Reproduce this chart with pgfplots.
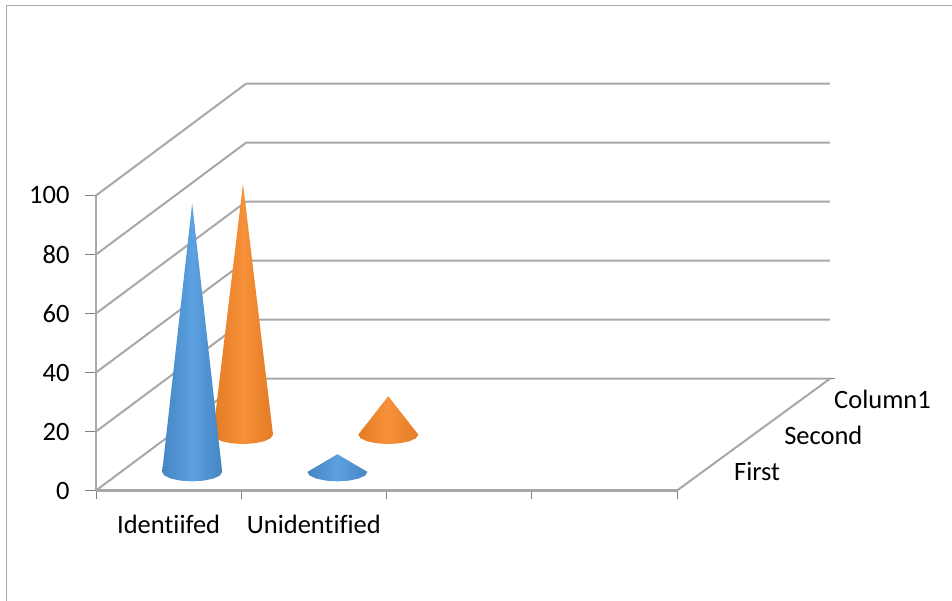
\documentclass[border=0pt]{standalone}
\usepackage{pgfplots}
\pgfplotsset{compat=1.18}
\usepackage{fontspec}
\setmainfont{Carlito}[Ligatures=NoCommon]
\definecolor{wall}{HTML}{A8A8A8}
\definecolor{blueedge}{HTML}{4585C2}
\definecolor{bluemid}{HTML}{5CA1E1}
\definecolor{orangeedge}{HTML}{E37C24}
\definecolor{orangemid}{HTML}{F69039}
\tikzset{
  bluecone/.style={draw=none,left color=blueedge,right color=blueedge,middle color=bluemid},
  orangecone/.style={draw=none,left color=orangeedge,right color=orangeedge,middle color=orangemid},
  wallline/.style={color=wall,line width=2pt,line join=round}
}
\begin{document}
\begin{tikzpicture}[x=1pt,y=1pt]
\useasboundingbox (0,0) rectangle (952,601);
% chart area frame
\draw[wall,line width=1.5pt] (6.5,0) -- (6.5,595.5) -- (952,595.5);
\begin{axis}[
  at={(96pt,110.5pt)},anchor=south west,
  scale only axis,width=581pt,height=295pt,
  xmin=0,xmax=4,ymin=0,ymax=100,
  clip=false,
  axis x line=bottom,axis y line=left,
  axis line style={-,color=wall,line width=2.2pt},
  xtick={0.5,1.5},xticklabels={Identiifed,Unidentified},
  minor xtick={0,1,2,3,4},
  ytick={0,20,40,60,80,100},
  tick align=outside,
  major tick length=11pt,minor tick length=9pt,
  major x tick style={draw=none},
  minor x tick style={color=gray,line width=0.8pt},
  major y tick style={color=gray,line width=0.8pt},
  tick label style={font=\fontsize{26.5}{30}\selectfont,text=black},
  /pgf/number format/assume math mode=true,
  x tick label style={yshift=-10pt},
  y tick label style={xshift=-12pt},
]
% side and back wall gridlines
\addplot[wallline] coordinates {(0,0) (1.033,37.9) (5.053,37.9) (4,0)};
\addplot[wallline] coordinates {(0,20) (1.033,57.9) (5.053,57.9)};
\addplot[wallline] coordinates {(0,40) (1.033,77.9) (5.053,77.9)};
\addplot[wallline] coordinates {(0,60) (1.033,97.9) (5.053,97.9)};
\addplot[wallline] coordinates {(0,80) (1.033,117.9) (5.053,117.9)};
\addplot[wallline] coordinates {(0,100) (1.033,137.9) (5.053,137.9)};
\addplot[color=gray,line width=0.8pt] coordinates {(5.053,37.9) (5.09,37.9)};
% series "Second": Identiifed 85, Unidentified 13 above a base level of 18.95
\addplot[orangecone] coordinates {(1.012,103.95) (1.2186,18.95) (1.203,17.73) (1.158,16.69) (1.091,15.99) (1.012,15.75) (0.933,15.99) (0.866,16.69) (0.821,17.73) (0.8054,18.95) (1.012,103.95)};
\addplot[orangecone] coordinates {(2.012,31.95) (2.2186,18.95) (2.203,17.73) (2.158,16.69) (2.091,15.99) (2.012,15.75) (1.933,15.99) (1.866,16.69) (1.821,17.73) (1.8054,18.95) (2.012,31.95)};
% series "First": Identiifed 91, Unidentified 6 above a base level of 6.3
\addplot[bluecone] coordinates {(0.662,97.3) (0.8686,6.3) (0.853,5.08) (0.808,4.04) (0.741,3.34) (0.662,3.1) (0.583,3.34) (0.516,4.04) (0.471,5.08) (0.4554,6.3) (0.662,97.3)};
\addplot[bluecone] coordinates {(1.662,12.3) (1.8686,6.3) (1.853,5.08) (1.808,4.04) (1.741,3.34) (1.662,3.1) (1.583,3.34) (1.516,4.04) (1.471,5.08) (1.4554,6.3) (1.662,12.3)};
% depth axis labels
\node[anchor=west,inner sep=0pt,font=\fontsize{26.5}{30}\selectfont] at (axis cs:4.392,6.3) {First};
\node[anchor=west,inner sep=0pt,font=\fontsize{26.5}{30}\selectfont] at (axis cs:4.737,18.6) {Second};
\node[anchor=west,inner sep=0pt,font=\fontsize{26.5}{30}\selectfont] at (axis cs:5.081,31) {Column1};
\end{axis}
\end{tikzpicture}
\end{document}
